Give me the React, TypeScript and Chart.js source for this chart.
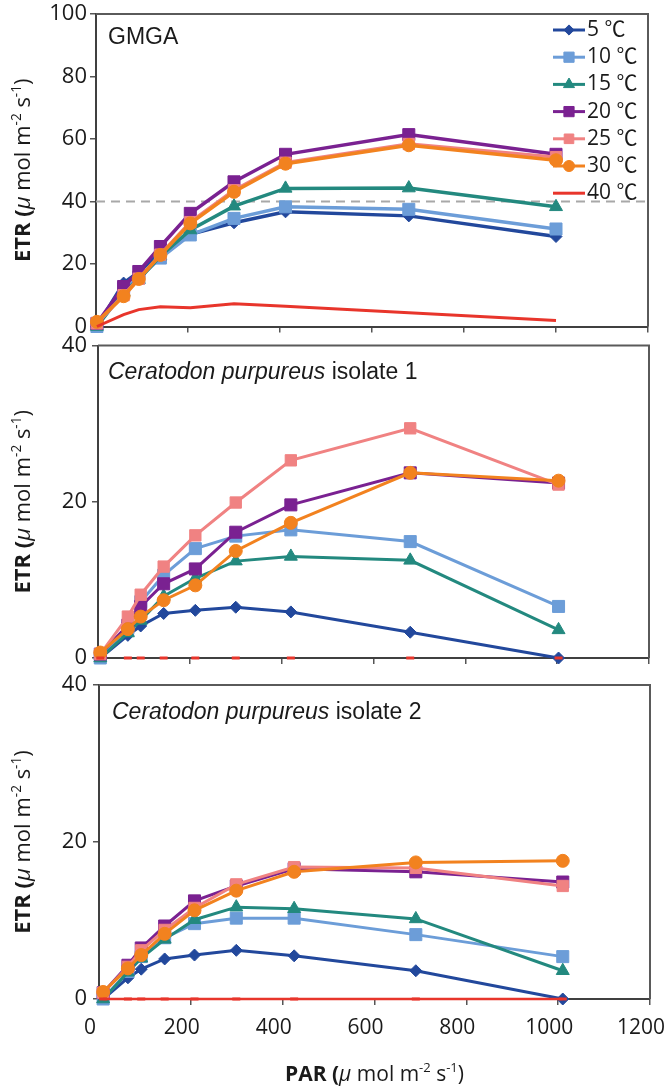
import React, { useEffect, useRef } from 'react';
import { Chart, registerables } from 'chart.js';
import { drawPoint } from 'chart.js/helpers';

Chart.register(...registerables);

// ---------- data ----------
const PAR_GMGA = [2, 60, 93, 140, 205, 300, 412, 680, 1000];
const PAR_ISO1 = [5, 65, 93, 143, 212, 300, 420, 680, 1003];
const PAR_ISO2 = [9, 63, 92, 143, 208, 299, 425, 690, 1010];

const GMGA_5 = [0, 13.9, 17.5, 23.5, 29.5, 33.2, 36.7, 35.4, 28.8];
const GMGA_10 = [0, 12.0, 15.5, 21.9, 29.3, 34.6, 38.3, 37.5, 31.2];
const GMGA_15 = [0, 11.0, 15.0, 22.5, 30.9, 38.5, 44.2, 44.3, 38.3];
const GMGA_20 = [1.0, 12.8, 17.6, 25.6, 36.2, 46.3, 55.1, 61.4, 55.1];
const GMGA_25 = [1.0, 10.0, 15.3, 23.0, 33.4, 43.6, 52.4, 58.4, 54.2];
const GMGA_30 = [1.5, 9.7, 15.2, 22.9, 33.0, 43.1, 52.1, 58.0, 53.2];
const GMGA_40 = [0, 3.8, 5.4, 6.3, 6.0, 7.3, 6.5, 4.4, 1.9];

const ISO1_5 = [0, 2.9, 4.1, 5.7, 6.1, 6.5, 5.9, 3.3, 0];
const ISO1_10 = [0, 3.8, 7.2, 10.6, 14.0, 15.6, 16.4, 14.9, 6.6];
const ISO1_15 = [0, 3.2, 4.8, 7.9, 10.2, 12.4, 13.0, 12.5, 3.6];
const ISO1_20 = [0.5, 4.2, 6.6, 9.5, 11.4, 16.1, 19.6, 23.7, 22.4];
const ISO1_25 = [0.5, 5.3, 8.1, 11.7, 15.7, 19.9, 25.3, 29.4, 22.2];
const ISO1_30 = [0.7, 3.7, 5.3, 7.4, 9.3, 13.7, 17.3, 23.7, 22.7];
const ISO1_40 = [0, 0, 0, 0, 0, 0, 0, 0, 0];

const ISO2_5 = [0, 2.7, 3.8, 5.1, 5.6, 6.2, 5.5, 3.6, 0];
const ISO2_10 = [0, 3.5, 5.4, 7.8, 9.6, 10.3, 10.3, 8.2, 5.4];
const ISO2_15 = [0, 3.4, 5.2, 7.6, 10.1, 11.7, 11.5, 10.2, 3.6];
const ISO2_20 = [0.8, 4.3, 6.5, 9.3, 12.5, 14.4, 16.6, 16.2, 14.9];
const ISO2_25 = [0.8, 4.1, 6.2, 8.8, 11.6, 14.6, 16.8, 16.7, 14.4];
const ISO2_30 = [0.9, 3.9, 5.6, 8.3, 11.3, 13.8, 16.2, 17.4, 17.6];
const ISO2_40 = [0, 0, 0, 0, 0, 0, 0, 0, 0];

const SERIES_LABELS = ['5 ℃', '10 ℃', '15 ℃', '20 ℃', '25 ℃', '30 ℃', '40 ℃'];
const X_TICKS = [0, 200, 400, 600, 800, 1000, 1200];
const Y_TICKS_GMGA = [0, 20, 40, 60, 80, 100];
const Y_TICKS_ISOLATE = [0, 20, 40];
const REFERENCE_LINE = 40;

// ---------- styles ----------
const SERIES_COLORS = ['#22489c', '#6c9dd8', '#23897f', '#7a2191', '#f08282', '#f2821f', '#e8352b'];
const POINT_STYLES = ['rectRot', 'rect', 'triangle', 'rect', 'rect', 'circle', 'line'];
const POINT_RADII = [6, 8.5, 7.5, 8.5, 8, 6.5, 4];
const NUM_FONT = "'Open Sans', 'Noto Sans CJK JP', sans-serif";
const TITLE_FONT = "'Liberation Sans', Arial, sans-serif";
const AXIS_COLOR = '#404040';
const TEXT_COLOR = '#1a1a1a';

type PanelSpec = {
  key: string;
  top: number;
  height: number;
  padTop: number;
  padRight: number;
  yWidth: number;
  xHeight: number;
  par: number[];
  series: number[][];
  yMax: number;
  yTicks: number[];
  titleItalic: string;
  titleNormal: string;
  titleDx: number;
  titleDy: number;
  lineWidth: number;
  redMode: 'line' | 'dash' | 'dashline';
  showXLabels: boolean;
  legend: boolean;
  refLine: boolean;
};

const PANELS: PanelSpec[] = [
  {
    key: 'gmga', top: 0, height: 336, padTop: 14, padRight: 24, yWidth: 96, xHeight: 9,
    par: PAR_GMGA, series: [GMGA_5, GMGA_10, GMGA_15, GMGA_20, GMGA_25, GMGA_30, GMGA_40],
    yMax: 100, yTicks: Y_TICKS_GMGA, titleItalic: '', titleNormal: 'GMGA', titleDx: 12, titleDy: 24,
    lineWidth: 3.5, redMode: 'line', showXLabels: false, legend: true, refLine: true,
  },
  {
    key: 'iso1', top: 336, height: 336, padTop: 9, padRight: 23, yWidth: 98, xHeight: 14,
    par: PAR_ISO1, series: [ISO1_5, ISO1_10, ISO1_15, ISO1_20, ISO1_25, ISO1_30, ISO1_40],
    yMax: 40, yTicks: Y_TICKS_ISOLATE, titleItalic: 'Ceratodon purpureus', titleNormal: ' isolate 1', titleDx: 10, titleDy: 27,
    lineWidth: 3, redMode: 'dash', showXLabels: false, legend: false, refLine: false,
  },
  {
    key: 'iso2', top: 672, height: 418, padTop: 13, padRight: 22, yWidth: 99, xHeight: 91,
    par: PAR_ISO2, series: [ISO2_5, ISO2_10, ISO2_15, ISO2_20, ISO2_25, ISO2_30, ISO2_40],
    yMax: 40, yTicks: Y_TICKS_ISOLATE, titleItalic: 'Ceratodon purpureus', titleNormal: ' isolate 2', titleDx: 13, titleDy: 28,
    lineWidth: 3, redMode: 'dashline', showXLabels: true, legend: false, refLine: false,
  },
];

type Run = { text: string; weight?: string; style?: string; scale?: number; rise?: number };

const UNIT_RUNS = (lead: string): Run[] => [
  { text: lead, weight: 'bold' },
  { text: 'μ', style: 'italic' },
  { text: ' mol m' },
  { text: '-2', scale: 0.62, rise: 0.42 },
  { text: ' s' },
  { text: '-1', scale: 0.62, rise: 0.42 },
  { text: ')' },
];

function drawRuns(ctx: CanvasRenderingContext2D, runs: Run[], size: number, family: string, cx: number, cy: number, rotate: boolean) {
  ctx.save();
  ctx.translate(cx, cy);
  if (rotate) ctx.rotate(-Math.PI / 2);
  const fontFor = (r: Run) => `${r.style || 'normal'} ${r.weight || 'normal'} ${size * (r.scale || 1)}px ${family}`;
  let total = 0;
  const widths = runs.map((r) => {
    ctx.font = fontFor(r);
    const w = ctx.measureText(r.text).width;
    total += w;
    return w;
  });
  let x = -total / 2;
  ctx.fillStyle = TEXT_COLOR;
  ctx.textBaseline = 'alphabetic';
  ctx.textAlign = 'left';
  const base = size * 0.36;
  runs.forEach((r, i) => {
    ctx.font = fontFor(r);
    ctx.fillText(r.text, x, base - (r.rise || 0) * size);
    x += widths[i];
  });
  ctx.restore();
}

function buildConfig(p: PanelSpec): any {
  const datasets = p.series.map((vals, i) => {
    const isRed = i === 6;
    const pts = p.par.map((x, k) => ({ x, y: vals[k] }));
    return {
      label: SERIES_LABELS[i],
      data: pts,
      borderColor: SERIES_COLORS[i],
      backgroundColor: SERIES_COLORS[i],
      pointBackgroundColor: SERIES_COLORS[i],
      pointBorderColor: SERIES_COLORS[i],
      pointStyle: POINT_STYLES[i],
      pointRadius: isRed ? (p.redMode === 'line' ? 0 : 4) : POINT_RADII[i],
      pointBorderWidth: isRed ? 3 : 1,
      borderWidth: isRed ? (p.redMode === 'line' ? 3 : 2.5) : p.lineWidth,
      showLine: !(isRed && p.redMode === 'dash'),
      tension: 0,
      clip: false,
      order: -i,
    };
  });

  const framePlugin = {
    id: 'frame-' + p.key,
    beforeDatasetsDraw(chart: any) {
      const { ctx, chartArea: ca, scales } = chart;
      ctx.save();
      ctx.strokeStyle = '#5a5a5a';
      ctx.lineWidth = 2;
      ctx.beginPath();
      ctx.moveTo(ca.left, ca.top);
      ctx.lineTo(ca.right, ca.top);
      ctx.lineTo(ca.right, ca.bottom);
      ctx.stroke();
      if (p.refLine) {
        const y = scales.y.getPixelForValue(REFERENCE_LINE);
        ctx.strokeStyle = '#a8a8a8';
        ctx.setLineDash([9, 6]);
        ctx.beginPath();
        ctx.moveTo(ca.left, y);
        ctx.lineTo(ca.right, y);
        ctx.stroke();
      }
      ctx.restore();
    },
    afterDatasetsDraw(chart: any) {
      const { ctx, chartArea: ca } = chart;
      // panel title
      ctx.save();
      ctx.fillStyle = TEXT_COLOR;
      ctx.textBaseline = 'middle';
      ctx.textAlign = 'left';
      let tx = ca.left + p.titleDx;
      const ty = ca.top + p.titleDy;
      if (p.titleItalic) {
        ctx.font = `italic 23px ${TITLE_FONT}`;
        ctx.fillText(p.titleItalic, tx, ty);
        tx += ctx.measureText(p.titleItalic).width;
      }
      ctx.font = `23px ${TITLE_FONT}`;
      ctx.fillText(p.titleNormal, tx, ty);
      ctx.restore();

      // y axis title
      drawRuns(ctx, UNIT_RUNS('ETR ('), 22, NUM_FONT, 22, (ca.top + ca.bottom) / 2, true);
      // x axis title
      if (p.showXLabels) {
        drawRuns(ctx, UNIT_RUNS('PAR ('), 21, NUM_FONT, (ca.left + ca.right) / 2, ca.bottom + 74, false);
      }

      // legend
      if (p.legend) {
        ctx.save();
        SERIES_LABELS.forEach((lab, i) => {
          const y = ca.top + 16 + i * 27.2;
          const color = SERIES_COLORS[i];
          ctx.strokeStyle = color;
          ctx.fillStyle = color;
          ctx.lineWidth = 3;
          ctx.setLineDash([]);
          ctx.beginPath();
          ctx.moveTo(ca.right - 95, y);
          ctx.lineTo(ca.right - 63, y);
          ctx.stroke();
          if (i < 6) {
            ctx.lineWidth = 1;
            drawPoint(ctx, { pointStyle: POINT_STYLES[i], radius: POINT_RADII[i] * 0.85, rotation: 0, borderWidth: 1 } as any, ca.right - 79, y);
          }
          ctx.fillStyle = TEXT_COLOR;
          ctx.font = `21px ${NUM_FONT}`;
          ctx.textBaseline = 'middle';
          ctx.textAlign = 'left';
          ctx.fillText(lab, ca.right - 61, y);
        });
        ctx.restore();
      }
    },
  };

  const tickFont = { family: NUM_FONT, size: 21 };

  return {
    type: 'line',
    data: { datasets },
    options: {
      responsive: false,
      maintainAspectRatio: false,
      animation: false,
      devicePixelRatio: 1,
      events: [],
      layout: { padding: { top: p.padTop, right: p.padRight, left: 0, bottom: 0 } },
      plugins: { legend: { display: false }, tooltip: { enabled: false }, title: { display: false } },
      scales: {
        x: {
          type: 'linear',
          min: 0,
          max: 1200,
          afterBuildTicks: (s: any) => { s.ticks = X_TICKS.map((v) => ({ value: v })); },
          afterFit: (s: any) => { s.height = p.xHeight; s.paddingLeft = 0; s.paddingRight = 0; },
          grid: { display: true, drawOnChartArea: false, drawTicks: true, tickLength: 6, color: '#555', lineWidth: 1.5 },
          border: { display: true, color: AXIS_COLOR, width: 2 },
          ticks: {
            display: p.showXLabels,
            font: tickFont,
            color: TEXT_COLOR,
            padding: 10,
            labelOffset: -9,
            maxRotation: 0,
            autoSkip: false,
            callback: (v: any) => String(v),
          },
        },
        y: {
          type: 'linear',
          min: 0,
          max: p.yMax,
          afterBuildTicks: (s: any) => { s.ticks = p.yTicks.map((v) => ({ value: v })); },
          afterFit: (s: any) => { s.width = p.yWidth; s.paddingTop = 0; s.paddingBottom = 0; },
          grid: { display: true, drawOnChartArea: false, drawTicks: true, tickLength: 6, color: '#555', lineWidth: 1.5 },
          border: { display: true, color: AXIS_COLOR, width: 2 },
          ticks: {
            font: { family: NUM_FONT, size: 22 },
            color: TEXT_COLOR,
            padding: 3 + (p.yWidth - 96),
            autoSkip: false,
            callback: (v: any) => String(v),
          },
        },
      },
    },
    plugins: [framePlugin],
  };
}

export default function App() {
  const r0 = useRef<HTMLCanvasElement>(null);
  const r1 = useRef<HTMLCanvasElement>(null);
  const r2 = useRef<HTMLCanvasElement>(null);
  const refs = [r0, r1, r2];

  useEffect(() => {
    const charts = PANELS.map((p, i) => new Chart(refs[i].current as HTMLCanvasElement, buildConfig(p)));
    return () => charts.forEach((c) => c.destroy());
  }, []);

  return (
    <div style={{ position: 'absolute', left: 0, top: 0, width: 672, height: 1090, background: '#ffffff', overflow: 'hidden' }}>
      {PANELS.map((p, i) => (
        <canvas
          key={p.key}
          ref={refs[i]}
          width={672}
          height={p.height}
          style={{ position: 'absolute', left: 0, top: p.top, width: 672, height: p.height, display: 'block' }}
        />
      ))}
    </div>
  );
}
